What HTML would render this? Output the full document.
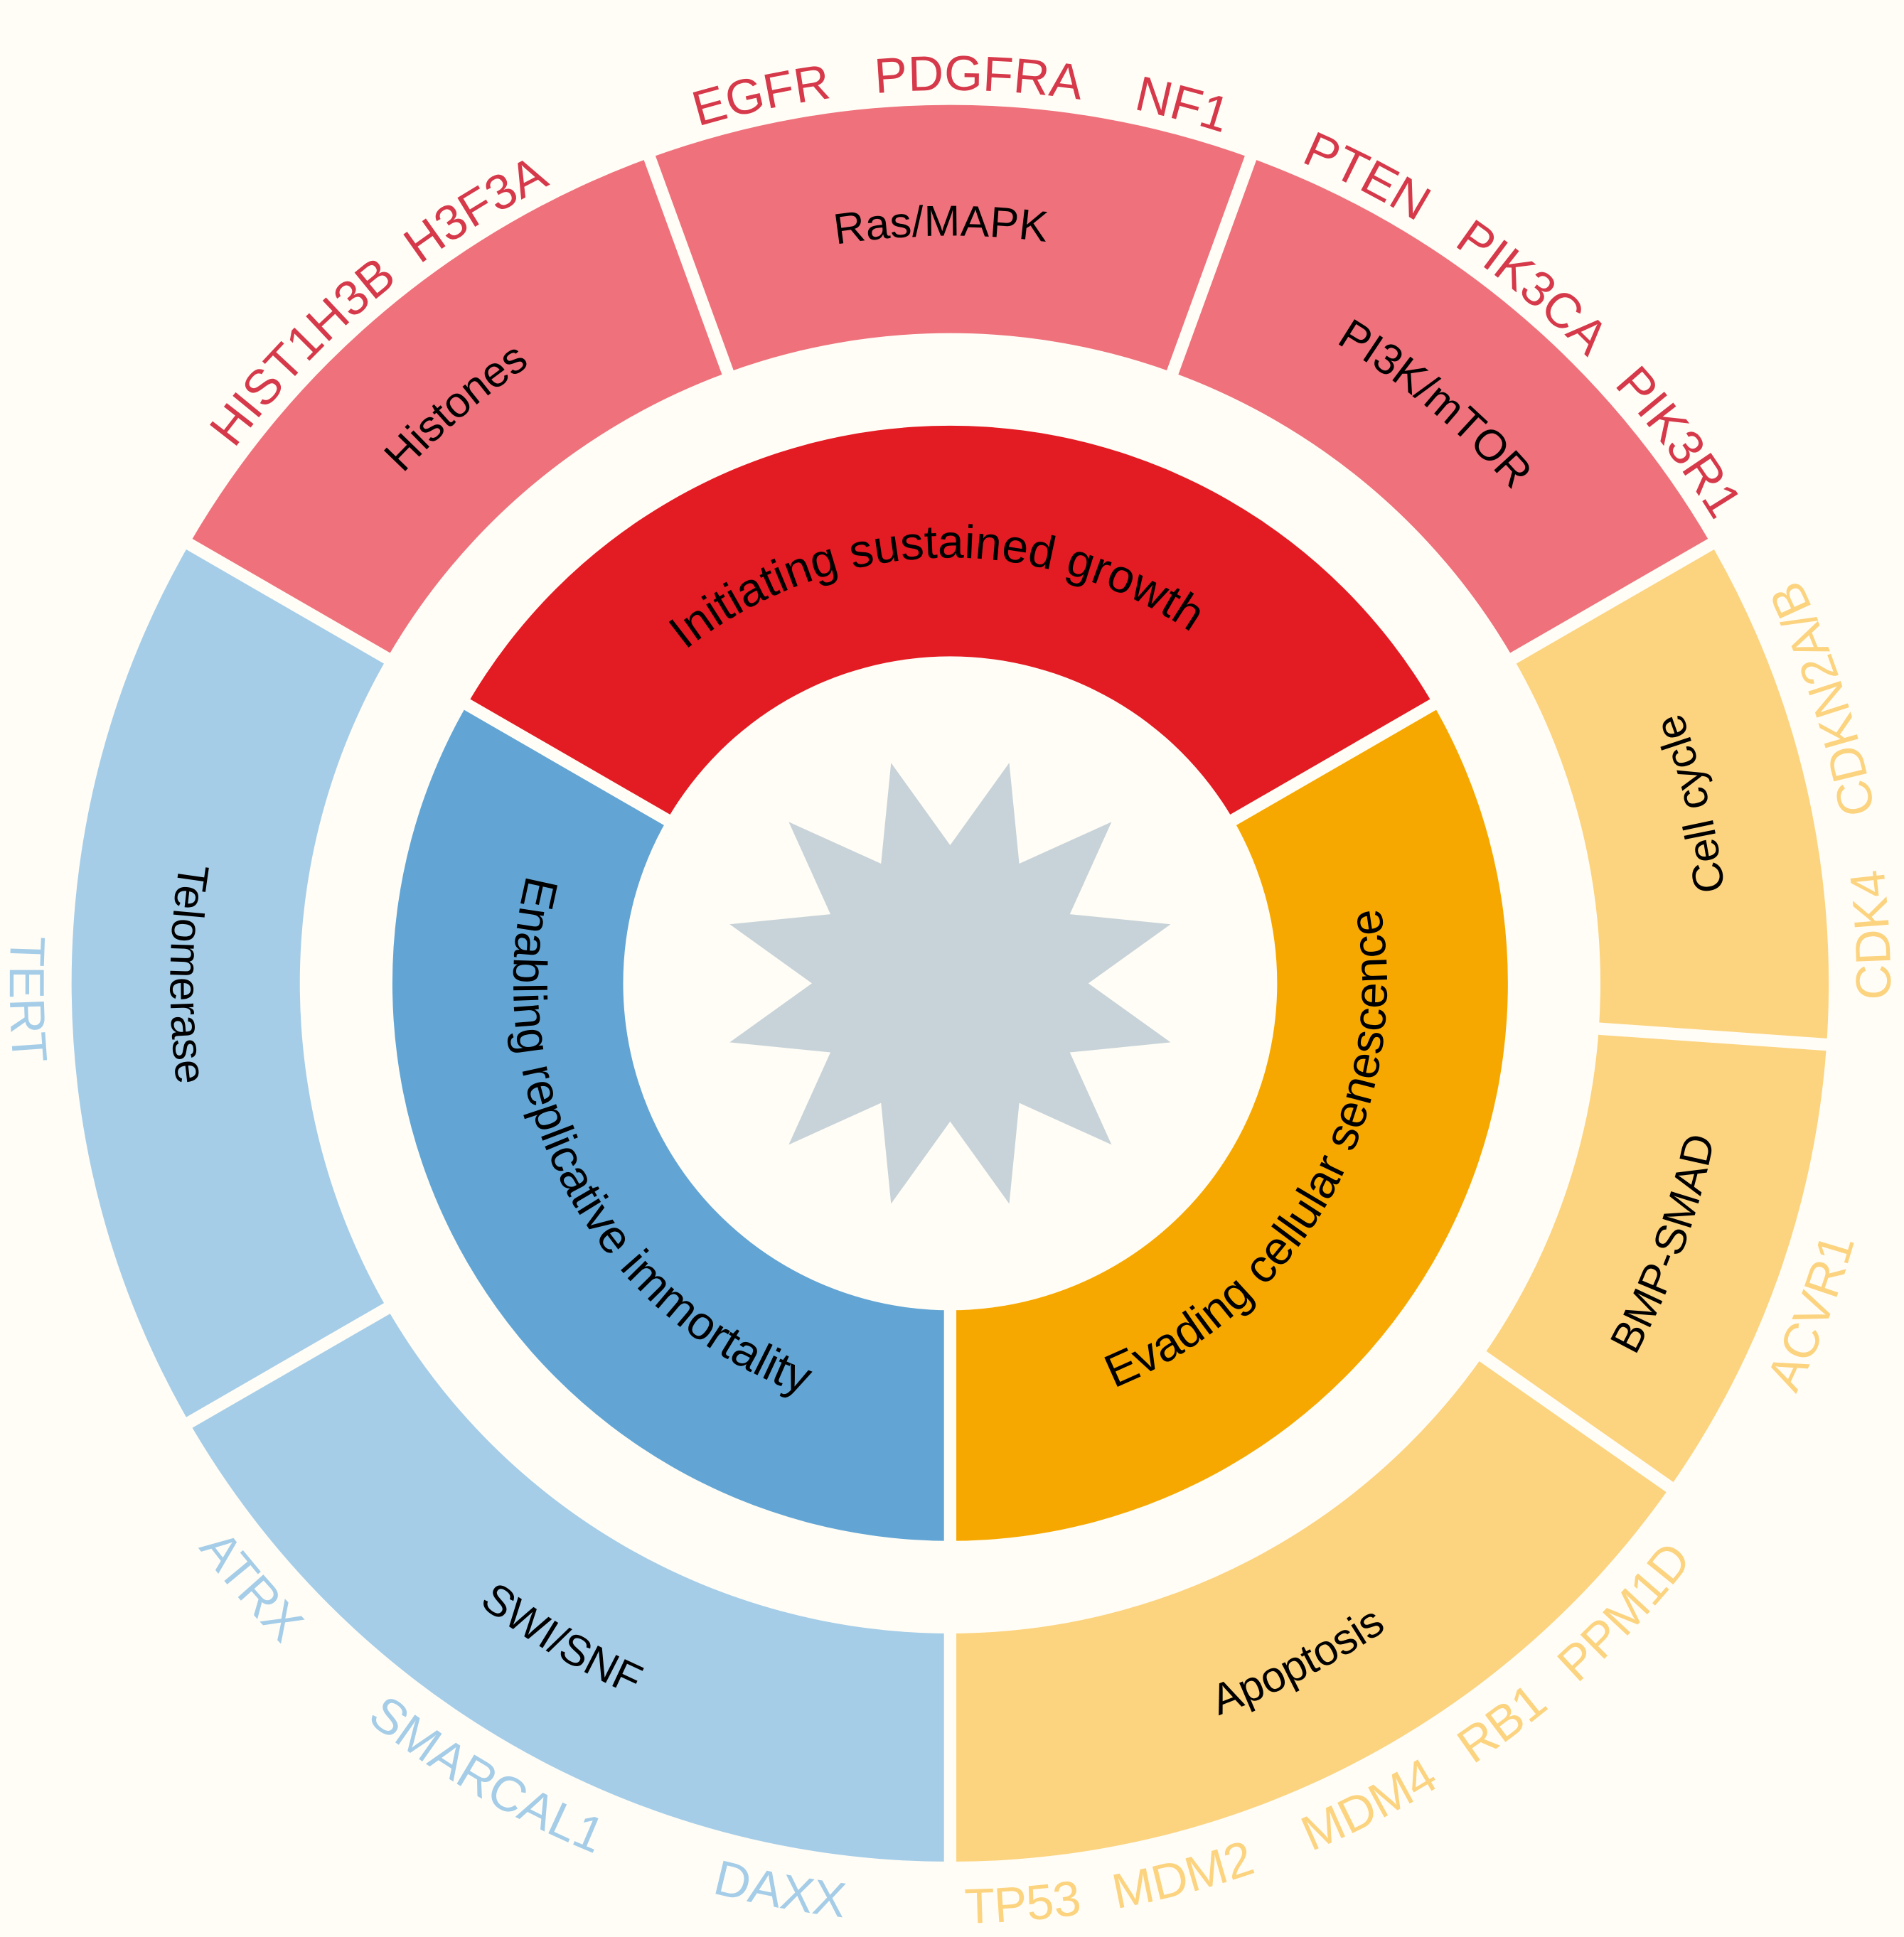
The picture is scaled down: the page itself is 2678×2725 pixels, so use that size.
<!DOCTYPE html>
<html><head><meta charset="utf-8">
<style>
html,body{margin:0;padding:0;background:#fffdf6;}
svg{display:block;}
text{font-family:"Liberation Sans",Arial,sans-serif;}
</style></head>
<body>
<svg id="s" xmlns="http://www.w3.org/2000/svg" width="2678" height="2725" viewBox="0 0 1543 1570">
<rect width="1543" height="1570" fill="#fffdf6"/>
<g id="g"></g>
</svg>
<script>
const NS="http://www.w3.org/2000/svg";
const g=document.getElementById('g');
const cx=770,cy=797;
function P(r,a){a=a*Math.PI/180;return [cx+r*Math.sin(a),cy-r*Math.cos(a)];}
function el(t,at,par){const e=document.createElementNS(NS,t);for(const k in at)e.setAttribute(k,at[k]);(par||g).appendChild(e);return e;}
function sector(r1,r2,a1,a2,fill){
 const p1=P(r2,a1),p2=P(r2,a2),p3=P(r1,a2),p4=P(r1,a1);const L=(a2-a1)>180?1:0;
 el('path',{d:`M${p1}A${r2},${r2} 0 ${L} 1 ${p2}L${p3}A${r1},${r1} 0 ${L} 0 ${p4}Z`,fill});
}
sector(265,452,-60,60,'#e31b23');
sector(265,452,60,180,'#f7a800');
sector(265,452,180,300,'#62a5d4');
const O=[[300,340,'#ee717b'],[340,380,'#ee717b'],[20,60,'#ee717b'],[60,94,'#fcd37f'],[94,125,'#fcd37f'],[125,180,'#fcd37f'],[180,240,'#a5cde8'],[240,300,'#a5cde8']];
O.forEach(o=>{let a1=o[0],a2=o[1];if(a2<a1)a2+=360;sector(527,712,a1,a2,o[2]);});
[-60,60,180].forEach(a=>{el('line',{x1:P(255,a)[0],y1:P(255,a)[1],x2:P(460,a)[0],y2:P(460,a)[1],stroke:'#fffdf6','stroke-width':10});});
[300,340,20,60,94,125,180,240].forEach(a=>{el('line',{x1:P(520,a)[0],y1:P(520,a)[1],x2:P(720,a)[0],y2:P(720,a)[1],stroke:'#fffdf6','stroke-width':10});});
let pts=[];for(let i=0;i<24;i++){const a=i*15;const r=(i%2==1)?185:112;pts.push(P(r,a).join(','));}
el('polygon',{points:pts.join(' '),fill:'#c8d3d9'});
let id=0;
function lab(txt,ang,r,cw,size,color){
 const span=85;let d;
 if(cw){const a=P(r,ang-span),b=P(r,ang+span);d=`M${a}A${r},${r} 0 0 1 ${b}`;}
 else{const a=P(r,ang+span),b=P(r,ang-span);d=`M${a}A${r},${r} 0 0 0 ${b}`;}
 const pid='p'+(id++);el('path',{id:pid,d,fill:'none'});
 const t=el('text',{'font-size':size,fill:color,'text-anchor':'middle'});
 const tp=el('textPath',{href:'#'+pid,startOffset:'50%'},t);tp.setAttributeNS('http://www.w3.org/1999/xlink','xlink:href','#'+pid);tp.textContent=txt;
}
lab('Initiating sustained growth',-2,345,true,38,'#000');
lab('Enabling replicative immortality',242,354,false,38,'#000');
lab('Evading cellular senescence',119,354,false,38,'#000');
lab('Histones',-40.6,606,true,35,'#000');
lab('Ras/MAPK',-0.7,606,true,35,'#000');
lab('PI3K/mTOR',39.9,606,true,35,'#000');
lab('Cell cycle',76.4,632,false,35,'#000');
lab('BMP-SMAD',110,632,false,35,'#000');
lab('Apoptosis',152.9,632,false,35,'#000');
lab('SWI/SNF',210.6,632,false,35,'#000');
lab('Telomerase',270.7,632,false,35,'#000');
const R='#d6394a',B='#a5cde8',Y='#fcd37f';
[['EGFR',-12],['PDGFRA',1.8],['NF1',14.8],['PTEN',27.3],['PIK3CA',39.9],['PIK3R1',53.4],['H3F3A',-31.5],['HIST1H3B',-45.7]].forEach(x=>lab(x[0],x[1],724,true,40,R));
[['CDKN2A/B',72,Y],['CDK4',87,Y],['ACVR1',110.9,Y],['PPM1D',133,Y],['RB1',143.3,Y],['MDM4',153,Y],['MDM2',165.4,Y],['TP53',175.5,Y],['DAXX',190.6,B],['SMARCAL1',210.3,B],['ATRX',229.2,B],['TERT',269,B]].forEach(x=>lab(x[0],x[1],762,false,40,x[2]));
</script>
</body></html>
